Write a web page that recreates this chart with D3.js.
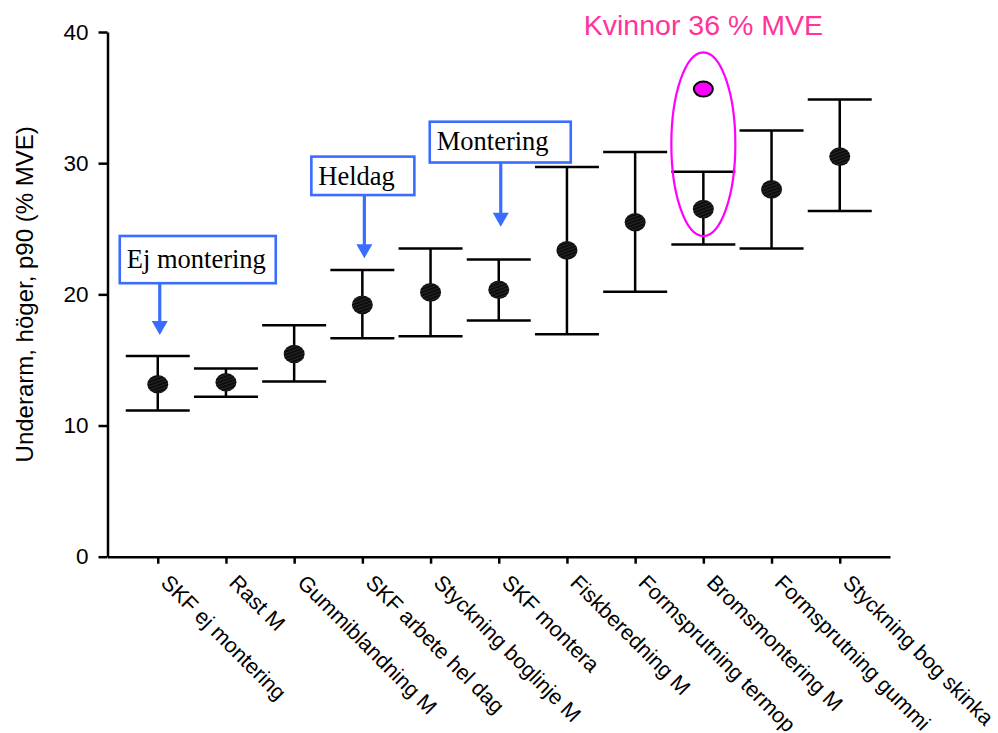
<!DOCTYPE html>
<html>
<head>
<meta charset="utf-8">
<script src="https://cdn.jsdelivr.net/npm/d3@7"></script>
<style>
  html, body { margin: 0; padding: 0; background: #fff; }
  svg { display: block; }
</style>
</head>
<body>
<svg id="chart" width="998" height="733"></svg>
<script>
// Work tasks and their forearm p90 load (% MVE): mean with lower/upper limits
const categories = [
  "SKF ej montering", "Rast M", "Gummiblandning M", "SKF arbete hel dag",
  "Styckning boglinje M", "SKF montera", "Fiskberedning M",
  "Formsprutning termop", "Bromsmontering M", "Formsprutning gummi",
  "Styckning bog skinka"
];
const meanValues  = [13.15, 13.3, 15.45, 19.2, 20.15, 20.35, 23.35, 25.5, 26.5, 28.0, 30.5];
const lowerValues = [11.15, 12.2, 13.35, 16.65, 16.8, 18.0, 16.95, 20.2, 23.8, 23.5, 26.35];
const upperValues = [15.3, 14.35, 17.65, 21.85, 23.5, 22.65, 29.7, 30.85, 29.35, 32.5, 34.85];
const yTicks = [0, 10, 20, 30, 40];

// Separate value for women in Bromsmontering
const womenCategory = "Bromsmontering M";
const womenValue = 35.65;

// Callout boxes pointing at specific tasks
const calloutLabels = ["Ej montering", "Heldag", "Montering"];
const calloutTargets = ["SKF ej montering", "SKF arbete hel dag", "SKF montera"];

const svg = d3.select("#chart");
const margin = { left: 107.5, right: 890, top: 32, bottom: 556.7 };

const x = d3.scalePoint().domain(categories).range([margin.left, margin.right]).padding(0.737);
const y = d3.scaleLinear().domain([0, 40]).range([margin.bottom, margin.top]);

// hatch texture for the mean markers
const defs = svg.append("defs");
const pat = defs.append("pattern")
  .attr("id", "hatch").attr("patternUnits", "userSpaceOnUse")
  .attr("width", 3).attr("height", 3)
  .attr("patternTransform", "rotate(70)");
pat.append("rect").attr("width", 3).attr("height", 3).attr("fill", "#0d0d0d");
pat.append("line").attr("x1", 0).attr("y1", 0).attr("x2", 0).attr("y2", 3)
  .attr("stroke", "#4a4a4a").attr("stroke-width", 0.9);

const font = "Liberation Sans, Arial, Helvetica, sans-serif";

// Y axis
const yAxis = svg.append("g")
  .attr("transform", `translate(${margin.left},0)`)
  .call(d3.axisLeft(y).tickValues(yTicks).tickSize(9).tickSizeOuter(0).tickPadding(10));
yAxis.select(".domain").attr("stroke", "#000").attr("stroke-width", 2.5);
yAxis.selectAll(".tick line").attr("stroke", "#000").attr("stroke-width", 2.5);
yAxis.selectAll(".tick text").attr("font-family", font).attr("font-size", 22.5).attr("fill", "#000");

// X axis
const xAxis = svg.append("g")
  .attr("transform", `translate(0,${margin.bottom})`)
  .call(d3.axisBottom(x).tickSize(7).tickSizeOuter(0).tickFormat(""));
xAxis.select(".domain").attr("stroke", "#000").attr("stroke-width", 2.5);
xAxis.selectAll(".tick line").attr("stroke", "#000").attr("stroke-width", 2.5);

// Rotated category labels
svg.append("g").selectAll("text")
  .data(categories)
  .join("text")
  .attr("transform", d => `translate(${x(d) + 13},573) rotate(45)`)
  .attr("dy", "0.72em")
  .attr("text-anchor", "start")
  .attr("font-family", font)
  .attr("font-size", 21.5)
  .attr("fill", "#000")
  .text(d => d);

// Y axis title
svg.append("text")
  .attr("transform", `translate(33,${(margin.top + margin.bottom) / 2}) rotate(-90)`)
  .attr("text-anchor", "middle")
  .attr("font-family", font)
  .attr("font-size", 24)
  .attr("fill", "#000")
  .text("Underarm, höger, p90 (% MVE)");

// Error bars
const rows = categories.map((c, i) => ({ c, mean: meanValues[i], lo: lowerValues[i], hi: upperValues[i] }));
const capHalf = 32;
const bars = svg.append("g").attr("stroke", "#000").attr("stroke-width", 2.5);
bars.selectAll("line.stem").data(rows).join("line").attr("class", "stem")
  .attr("x1", d => x(d.c)).attr("x2", d => x(d.c))
  .attr("y1", d => y(d.hi)).attr("y2", d => y(d.lo));
bars.selectAll("line.capHi").data(rows).join("line").attr("class", "capHi")
  .attr("x1", d => x(d.c) - capHalf).attr("x2", d => x(d.c) + capHalf)
  .attr("y1", d => y(d.hi)).attr("y2", d => y(d.hi));
bars.selectAll("line.capLo").data(rows).join("line").attr("class", "capLo")
  .attr("x1", d => x(d.c) - capHalf).attr("x2", d => x(d.c) + capHalf)
  .attr("y1", d => y(d.lo)).attr("y2", d => y(d.lo));

// Mean markers
svg.append("g").selectAll("ellipse").data(rows).join("ellipse")
  .attr("cx", d => x(d.c)).attr("cy", d => y(d.mean))
  .attr("rx", 10.5).attr("ry", 9.3)
  .attr("fill", "url(#hatch)");

// Women's value with ring highlight
const ringTop = 38.45, ringBottom = 24.45;
svg.append("ellipse")
  .attr("cx", x(womenCategory))
  .attr("cy", (y(ringTop) + y(ringBottom)) / 2)
  .attr("rx", 32)
  .attr("ry", (y(ringBottom) - y(ringTop)) / 2)
  .attr("fill", "none").attr("stroke", "#ff00ff").attr("stroke-width", 2.2);
svg.append("ellipse")
  .attr("cx", x(womenCategory)).attr("cy", y(womenValue))
  .attr("rx", 9.5).attr("ry", 7.5)
  .attr("fill", "#ff00ff").attr("stroke", "#000").attr("stroke-width", 2);
svg.append("text")
  .attr("x", x(womenCategory)).attr("y", 35)
  .attr("text-anchor", "middle")
  .attr("font-family", font).attr("font-size", 28.5)
  .attr("fill", "#ff3399")
  .text(`Kvinnor ${d3.format(".0f")(womenValue)} % MVE`);

// Callout boxes with arrows
const calloutLayout = [
  { dx: -38, width: 156, top: 24.45, bottom: 20.85, tip: 16.9, textDy: 15 },
  { dx: -51, width: 103, top: 30.5, bottom: 27.57, tip: 22.75, textDy: 10 },
  { dx: -69, width: 141, top: 33.16, bottom: 30.05, tip: 25.15, textDy: 12.5 }
];
const blue = "#3a6cff";
calloutLabels.forEach((label, i) => {
  const L = calloutLayout[i];
  const cx = x(calloutTargets[i]) + 2;
  const left = x(calloutTargets[i]) + L.dx;
  const g = svg.append("g");
  g.append("rect")
    .attr("x", left).attr("y", y(L.top))
    .attr("width", L.width).attr("height", y(L.bottom) - y(L.top))
    .attr("fill", "#fff").attr("stroke", blue).attr("stroke-width", 2.6);
  g.append("text")
    .attr("x", left + 7).attr("y", y(L.bottom) - L.textDy)
    .attr("font-family", "Liberation Serif, Times New Roman, serif")
    .attr("font-size", 26.5).attr("fill", "#000")
    .text(label);
  const tipY = y(L.tip);
  g.append("line")
    .attr("x1", cx).attr("x2", cx)
    .attr("y1", y(L.bottom)).attr("y2", tipY - 12)
    .attr("stroke", blue).attr("stroke-width", 3.2);
  g.append("path")
    .attr("d", `M${cx - 8},${tipY - 14} L${cx + 8},${tipY - 14} L${cx},${tipY} Z`)
    .attr("fill", blue);
});
</script>
</body>
</html>
